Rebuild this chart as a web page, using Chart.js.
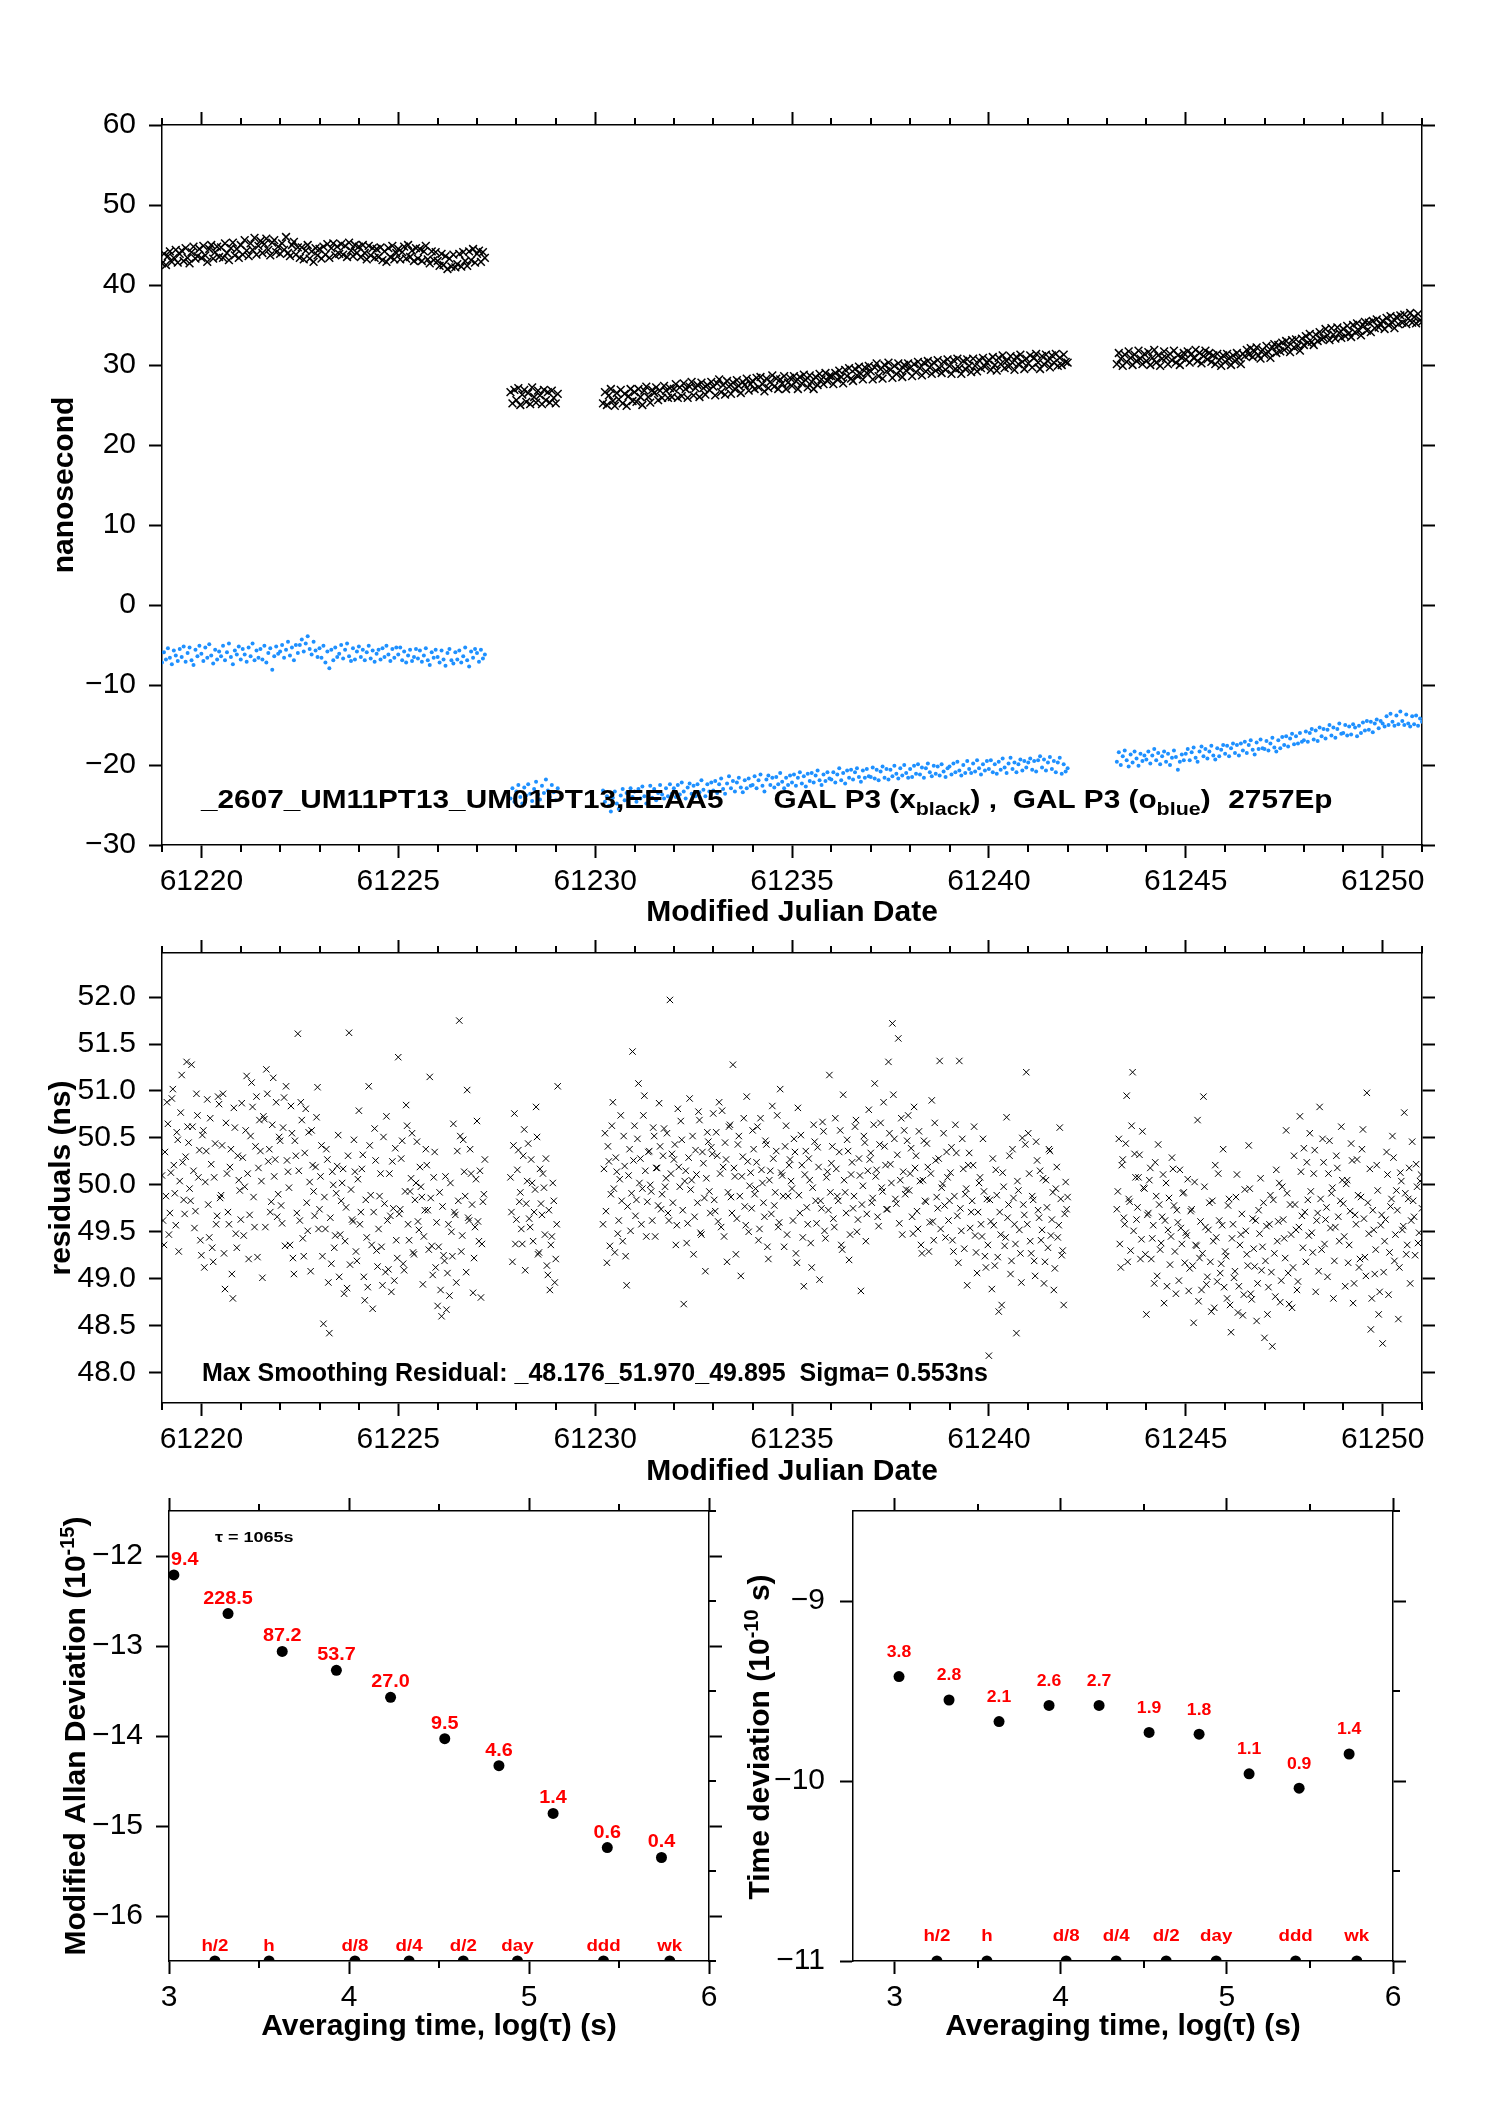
<!DOCTYPE html>
<html>
<head>
<meta charset="utf-8">
<script src="https://cdn.jsdelivr.net/npm/chart.js@4.4.1/dist/chart.umd.min.js"></script>
<style>
  body { margin: 0; background: #fff; width: 1488px; height: 2105px; position: relative; overflow: hidden; }
  canvas { position: absolute; left: 0; top: 0; }
</style>
</head>
<body>
<canvas id="clockChart" width="1488" height="2105"></canvas>
<canvas id="residChart" width="1488" height="2105"></canvas>
<canvas id="adevChart" width="1488" height="2105"></canvas>
<canvas id="tdevChart" width="1488" height="2105"></canvas>
<script>
// ---- sampling of the clock comparison (MJD start of each continuous segment) ----
const segStartMjd = [61219.00, 61227.85, 61230.20, 61243.25];
const stepDays = 0.05;

// GAL P3 (x, black), nanoseconds
const galBlackSeg1 = [42.7,43.9,42.5,43.6,44.2,42.9,43.4,44.4,42.8,43.9,44.3,43.0,44.6,43.4,42.7,44.1,44.8,43.3,43.6,44.5,
  43.4,44.9,43.7,42.9,44.5,45.0,43.3,44.1,44.8,43.5,44.7,43.4,45.2,44.0,43.1,44.6,45.3,43.7,44.5,43.4,
  45.0,43.8,45.6,44.3,43.6,45.2,44.4,45.9,43.8,44.9,45.5,44.0,45.1,45.8,44.4,43.7,45.3,45.6,44.1,44.8,
  43.9,45.2,44.4,46.0,44.0,43.6,45.0,45.4,43.8,44.7,43.4,44.7,43.2,44.3,45.0,43.3,44.2,42.9,44.6,43.7,
  44.5,43.3,44.8,43.8,45.1,43.4,44.6,45.2,43.7,44.8,43.9,45.1,43.8,44.9,43.5,45.3,44.3,43.6,45.0,44.0,
  44.8,43.5,45.0,44.0,43.2,44.9,43.7,44.6,43.4,44.5,43.5,44.7,43.1,44.2,42.9,44.6,43.5,44.9,43.2,44.0,
  44.5,43.2,44.1,44.8,43.3,45.0,43.5,44.3,43.0,44.6,43.3,44.5,43.0,44.2,44.9,43.2,42.7,44.2,43.1,44.1,
  43.0,42.4,43.9,42.5,43.6,42.0,43.3,42.3,43.8,42.2,42.6,43.9,42.3,44.1,43.0,42.4,44.2,43.1,44.5,42.8,
  43.9,44.3,42.9,44.1,43.4];
const galBlackSeg2 = [26.6,25.2,26.9,25.6,27.1,25.0,26.3,26.9,25.4,26.5,25.1,27.2,26.0,25.3,26.8,26.2,25.1,26.9,25.6,26.6,
  25.3,26.8,25.9,25.2,26.4];
const galBlackSeg3 = [25.2,26.6,25.0,26.2,27.0,25.5,24.9,26.5,25.7,26.9,25.2,26.4,24.9,26.1,27.0,25.5,
  26.6,25.4,27.0,26.0,25.0,26.8,27.3,26.0,25.3,26.9,26.5,27.2,25.6,26.8,25.9,27.4,26.8,25.9,27.1,26.0,
  27.0,27.6,25.9,27.2,26.1,27.7,27.0,25.9,27.3,27.9,26.2,27.1,27.5,26.0,27.8,27.1,26.3,27.5,26.9,27.9,
  27.3,26.2,27.7,28.2,26.6,27.5,26.3,28.0,27.3,26.4,27.8,27.0,28.1,27.4,26.5,27.9,27.5,28.3,26.8,27.6,
  28.0,27.0,28.4,27.2,28.5,27.6,26.7,28.3,27.1,27.9,28.7,27.3,28.3,27.0,28.2,27.7,28.6,27.0,27.8,28.4,
  27.4,28.6,28.0,27.0,28.5,27.7,28.8,28.1,27.2,28.7,27.9,27.0,28.5,27.5,28.9,28.2,27.6,29.0,28.0,28.6,
  28.6,27.6,29.0,28.2,29.3,28.5,27.7,29.4,28.6,29.6,28.3,28.0,29.5,28.7,29.8,28.9,28.2,29.7,29.0,29.9,
  29.2,28.2,29.7,30.2,28.6,29.5,28.3,30.0,29.2,30.3,29.4,28.4,29.9,28.9,30.2,29.3,28.5,30.0,29.3,30.2,
  29.6,28.6,30.1,29.1,30.4,29.6,28.7,30.3,29.2,30.5,29.7,28.9,30.3,29.3,30.6,29.6,29.0,30.4,29.4,30.7,
  29.9,28.9,30.6,29.5,30.8,29.6,28.9,30.5,29.5,30.7,29.9,29.1,30.8,29.9,29.2,30.6,29.6,30.9,29.8,30.3,
  30.6,29.4,31.0,30.0,29.3,30.9,30.1,31.2,29.6,30.5,29.8,31.1,30.3,29.4,31.0,30.1,31.3,30.4,29.5,30.8,
  30.2,31.2,29.7,30.9,31.4,30.3,29.5,31.1,30.1,31.3,30.5,29.7,31.2,30.3,31.4,29.9,30.9,30.0,31.3,30.4,
  30.3];
const galBlackSeg4 = [30.1,31.5,30.8,29.9,31.3,30.4,31.7,30.9,30.0,31.3,30.5,31.8,30.8,30.1,31.4,
  30.5,31.6,30.0,30.9,31.9,30.3,31.2,29.9,30.8,31.7,30.9,30.1,31.4,30.6,31.8,30.3,31.2,30.0,30.9,31.5,
  30.7,31.7,30.3,31.4,30.9,31.9,30.5,31.5,30.2,31.1,31.8,30.7,31.5,30.4,31.2,30.1,31.4,30.6,29.9,31.2,
  30.4,31.4,30.8,30.0,31.2,30.5,31.5,30.9,30.1,31.4,31.1,31.9,31.3,32.1,31.0,31.7,32.2,31.2,30.8,31.9,
  31.3,32.4,31.6,30.9,32.2,32.6,31.5,32.5,31.7,32.8,31.9,33.0,32.3,31.6,33.1,32.2,33.2,32.4,31.8,33.3,
  32.5,33.6,32.8,33.9,32.9,32.5,33.8,33.0,34.1,33.2,33.4,34.5,33.7,33.1,34.6,33.8,33.3,34.7,34.0,33.4,
  34.5,33.6,34.9,34.0,33.5,35.0,34.1,35.2,34.3,33.7,35.0,35.4,34.3,35.3,34.1,35.5,34.6,35.7,34.7,35.1,
  35.5,34.5,35.9,35.0,36.1,35.3,34.6,36.0,35.1,36.2,35.3,36.3,35.1,35.8,36.5,35.3,36.0,35.2,36.4,35.6,
  35.4];

// GAL P3 (o, blue), nanoseconds
const galBlueSeg1 = [-7.2,-5.9,-6.8,-5.4,-6.6,-7.4,-5.7,-6.3,-7.0,-5.5,-6.5,-5.2,-7.1,-6.0,-5.3,-6.9,-7.5,-5.6,-6.4,-5.1,
  -6.1,-7.0,-5.3,-6.6,-4.9,-6.3,-7.3,-5.6,-6.8,-5.8,-6.4,-5.1,-6.9,-5.9,-4.8,-6.5,-7.4,-5.7,-6.2,-5.2,
  -6.8,-5.5,-6.2,-7.1,-5.3,-6.4,-4.8,-6.9,-5.7,-6.6,-5.5,-6.8,-5.1,-7.2,-6.0,-5.4,-8.1,-6.4,-5.2,-6.1,
  -5.8,-5.0,-6.6,-5.6,-4.6,-6.3,-5.3,-6.9,-5.0,-6.0,-5.0,-4.3,-5.8,-4.8,-3.9,-5.5,-6.2,-4.6,-5.7,-6.5,
  -5.4,-6.6,-5.1,-7.2,-5.8,-7.9,-5.6,-6.9,-5.3,-6.5,-6.1,-5.0,-6.7,-5.6,-4.8,-6.4,-7.0,-5.4,-6.8,-5.8,
  -5.2,-6.5,-5.6,-6.9,-5.9,-5.1,-6.7,-5.7,-7.1,-6.1,-5.6,-6.8,-5.4,-6.5,-5.1,-6.2,-7.0,-5.5,-6.6,-5.3,
  -6.2,-5.3,-6.9,-5.8,-7.2,-6.3,-5.6,-7.0,-6.5,-5.5,-6.7,-5.7,-7.1,-6.3,-5.4,-6.9,-7.5,-5.9,-6.6,-5.6,
  -6.5,-7.2,-5.7,-6.8,-7.6,-6.0,-5.5,-6.9,-7.3,-5.9,-6.8,-5.7,-7.2,-6.4,-5.3,-6.9,-7.7,-5.8,-6.6,-5.5,
  -6.0,-7.1,-5.6,-6.7,-6.2];
const galBlueSeg2 = [-24.2,-22.9,-24.6,-23.3,-22.5,-24.0,-24.8,-22.8,-23.8,-22.4,-23.6,-24.5,-23.0,-22.1,-23.7,-24.3,-22.6,-23.5,-21.8,-23.2,
  -24.0,-22.5,-23.4,-24.4,-22.9];
const galBlueSeg3 = [-23.2,-24.6,-23.9,-25.1,-25.8,-24.1,-23.3,-24.8,-25.5,-23.8,-23.0,-24.4,-23.5,-25.0,-22.9,-24.0,
  -23.3,-24.6,-23.0,-24.2,-22.7,-23.9,-24.8,-23.4,-22.6,-24.1,-23.0,-24.4,-23.5,-22.5,-23.7,-24.2,-22.9,-23.9,-22.4,-23.6,
  -22.9,-24.0,-22.5,-23.7,-22.2,-23.3,-24.2,-22.8,-22.3,-23.6,-22.6,-23.9,-22.4,-23.4,-21.9,-23.1,-23.9,-22.4,-23.3,-22.2,
  -23.2,-22.0,-23.5,-22.4,-21.7,-23.0,-23.6,-22.3,-21.4,-22.9,-22.0,-23.3,-22.2,-21.6,-22.8,-23.4,-21.9,-22.9,-21.7,-22.6,
  -22.5,-21.4,-22.9,-21.9,-21.2,-22.6,-23.3,-21.8,-21.3,-22.5,-21.6,-22.8,-21.5,-22.4,-21.0,-22.1,-22.9,-21.6,-22.5,-21.3,
  -22.2,-21.2,-22.6,-21.6,-20.9,-22.3,-21.4,-22.7,-21.1,-22.0,-21.0,-22.2,-21.3,-20.7,-21.9,-22.5,-21.2,-22.0,-20.9,-21.7,
  -21.8,-20.9,-22.2,-21.2,-20.4,-21.9,-21.0,-22.3,-20.7,-21.6,-20.6,-21.8,-20.9,-20.4,-21.5,-22.1,-20.7,-21.6,-20.5,-21.4,
  -21.5,-20.3,-21.7,-20.6,-21.9,-20.8,-20.2,-21.6,-20.5,-21.8,-20.6,-21.4,-20.1,-21.1,-21.7,-20.4,-21.3,-20.0,-21.0,-21.6,
  -20.5,-21.5,-20.1,-21.1,-19.9,-21.2,-20.3,-21.6,-20.4,-19.8,-20.9,-21.4,-20.1,-21.1,-20.2,-21.3,-19.9,-20.8,-21.5,-20.4,
  -20.2,-21.2,-19.8,-20.9,-19.6,-20.7,-21.3,-20.0,-21.0,-19.5,-20.5,-21.0,-19.8,-20.8,-19.4,-20.4,-21.2,-19.9,-20.7,-19.5,
  -20.5,-19.4,-20.9,-19.9,-21.1,-19.6,-20.6,-19.2,-20.3,-21.0,-19.8,-19.1,-20.5,-19.7,-20.9,-19.9,-19.3,-20.7,-19.5,-20.3,
  -19.7,-19.2,-20.6,-19.5,-20.8,-19.4,-18.9,-20.3,-19.3,-20.7,-19.7,-19.0,-20.5,-19.5,-20.9,-19.7,-19.1,-21.1,-19.9,-20.8,
  -20.4];
const galBlueSeg4 = [-19.6,-18.4,-20.0,-18.9,-18.2,-19.4,-20.2,-18.7,-19.7,-18.3,-19.2,-20.1,-18.6,-19.5,-18.8,
  -19.3,-18.3,-19.8,-18.8,-18.0,-19.4,-18.5,-19.9,-18.9,-18.3,-19.6,-18.6,-20.0,-19.1,-18.2,-19.0,-20.6,-19.6,-18.7,-19.4,
  -18.6,-18.0,-19.4,-18.4,-17.8,-19.1,-19.6,-18.3,-17.7,-18.9,-18.0,-19.2,-18.3,-17.6,-18.8,-19.3,-17.9,-18.9,-18.1,-17.5,
  -18.6,-17.6,-18.9,-17.9,-17.3,-18.5,-17.5,-18.8,-17.3,-18.2,-17.1,-18.5,-17.5,-16.9,-18.1,-18.7,-17.2,-18.0,-16.8,-17.9,
  -18.0,-17.0,-18.2,-17.3,-16.6,-17.8,-18.3,-16.9,-17.9,-16.5,-17.5,-16.4,-17.7,-16.7,-16.1,-17.4,-16.4,-17.3,-16.0,-17.1,
  -16.9,-15.8,-17.1,-16.0,-15.5,-16.8,-15.7,-17.0,-15.3,-16.4,-15.5,-16.7,-15.6,-15.0,-16.3,-15.3,-16.6,-15.5,-14.8,-16.1,
  -16.0,-15.0,-16.3,-15.2,-16.2,-14.9,-15.3,-16.4,-15.1,-16.0,-14.7,-15.7,-14.5,-15.6,-14.6,-15.9,-14.8,-14.3,-15.4,-14.5,
  -14.8,-15.2,-13.9,-15.0,-13.6,-14.6,-15.1,-13.8,-14.9,-13.3,-14.5,-15.0,-13.7,-14.8,-15.2,-13.9,-14.9,-13.8,-15.1,-14.2,
  -14.6];

// smoothing residuals, nanoseconds (samples on the grid, then samples half a step later)
const residSeg1 = [50.10,49.36,49.88,50.65,49.70,50.92,50.21,49.57,50.48,50.04,51.17,49.84,50.30,50.62,49.96,51.28,50.15,49.72,50.74,50.37,
  49.25,50.58,50.03,50.91,49.44,50.22,49.18,50.44,49.67,50.86,49.89,50.97,48.89,50.12,49.58,50.38,48.79,50.61,49.33,50.05,
  49.63,50.29,49.98,51.16,49.21,50.52,50.83,49.55,50.94,50.18,50.36,49.01,50.70,51.23,50.25,49.71,50.64,50.09,50.88,49.90,
  50.47,49.59,50.93,51.05,50.14,49.36,50.55,49.05,50.31,51.61,49.62,50.69,49.24,50.81,49.51,50.03,50.58,49.93,50.19,51.04,
  49.74,50.42,48.52,49.53,50.27,48.42,49.16,50.00,49.46,50.20,49.02,49.83,50.17,49.40,48.90,51.62,49.95,49.61,50.14,49.19,
  50.79,49.71,50.32,48.77,49.44,51.05,49.89,48.68,50.60,49.30,49.53,50.12,48.93,49.80,50.73,49.10,49.67,50.25,48.98,49.41,
  51.36,49.74,50.47,49.09,50.85,49.58,49.93,50.55,49.26,50.02,49.61,50.19,49.87,49.45,50.38,49.73,51.15,49.35,50.08,49.12,
  48.71,49.92,48.60,49.25,50.09,49.06,48.82,49.50,50.65,49.68,50.36,51.75,49.29,50.48,49.88,51.01,49.62,50.12,48.85,49.55,
  50.68,49.40,48.80,49.82,50.27];
const residSeg2 = [50.08,49.18,50.76,49.63,50.37,49.92,49.37,50.59,49.80,50.44,49.55,50.02,49.71,50.83,49.26,50.17,49.68,49.97,50.28,49.04,
  48.88,49.45,49.83,49.21,51.05];
const residSeg3 = [49.58,50.55,49.17,50.25,49.90,50.88,49.28,50.14,49.62,50.74,49.40,50.20,48.93,50.10,49.51,51.42,
  50.63,49.84,51.08,50.28,49.96,50.95,49.45,50.35,50.00,49.62,50.52,50.18,49.78,50.41,49.90,50.60,50.07,49.70,51.97,50.33,
  50.27,49.36,50.81,49.98,50.48,48.73,50.15,49.59,50.92,50.05,49.26,50.37,49.81,50.69,49.47,50.23,49.08,50.56,49.93,50.40,
  50.76,49.72,50.31,50.88,49.55,50.19,50.45,49.18,50.62,49.87,51.28,50.09,49.64,50.52,49.03,50.30,49.77,50.94,49.50,50.13,
  50.58,49.90,50.24,49.41,50.71,50.02,49.66,50.43,49.21,50.15,50.84,49.78,50.36,49.55,51.02,50.10,49.34,50.63,49.88,50.27,
  49.96,50.49,49.27,50.82,49.70,50.21,48.92,50.36,49.58,50.05,49.12,50.64,49.83,50.40,48.99,49.75,50.57,49.43,50.14,51.17,
  50.23,49.64,50.71,49.88,50.35,49.36,50.96,49.92,50.48,49.20,50.11,49.75,50.62,49.50,50.28,48.87,49.99,50.45,49.69,50.80,
  50.34,49.86,51.08,50.16,49.56,50.66,49.93,50.41,49.74,51.31,50.22,51.72,50.49,49.80,51.56,50.05,49.47,50.58,49.95,50.74,
  50.12,49.66,50.83,50.31,49.53,50.04,49.27,50.47,49.82,50.19,49.60,50.90,49.41,50.26,49.75,51.32,49.97,50.55,49.44,50.08,
  49.83,50.40,49.29,50.64,49.67,51.32,49.51,50.17,49.90,48.93,50.34,49.71,50.21,49.46,49.06,50.02,49.58,50.49,49.24,49.85,
  48.18,49.61,50.28,49.14,49.89,48.65,49.47,50.13,49.35,50.72,49.79,49.05,50.38,49.58,48.42,49.94,49.27,50.50,49.68,51.20,
  50.55,49.40,49.88,49.19,50.46,49.73,50.15,49.52,48.95,50.05,49.33,50.36,49.63,48.88,49.96,49.44,50.61,49.25,48.72,50.03,
  49.87];
const residSeg4 = [49.74,50.49,49.12,50.27,49.58,50.95,49.85,49.30,51.20,50.33,49.63,50.08,49.21,50.57,49.96,
  48.62,49.70,50.18,49.43,48.95,49.88,50.43,49.31,49.66,48.74,50.02,49.52,49.15,50.29,49.78,48.84,49.60,50.16,49.37,49.92,
  49.49,50.06,49.11,49.74,48.53,49.36,50.69,49.22,48.88,50.94,49.55,49.02,49.81,48.65,49.40,50.21,48.97,49.62,49.16,50.38,
  49.29,48.79,49.85,48.43,49.58,49.08,50.11,48.92,49.47,48.61,49.95,49.26,50.42,48.84,49.64,49.13,48.55,49.73,50.07,49.34,
  48.37,49.56,48.91,49.89,48.28,49.27,50.16,49.61,48.75,49.98,49.43,50.58,49.06,49.79,48.69,50.31,49.52,48.97,50.73,49.67,
  50.39,49.18,49.84,50.55,49.49,50.12,48.86,49.70,50.83,49.31,50.24,49.63,49.02,50.47,49.91,48.79,49.55,50.18,49.40,50.62,
  49.80,48.92,50.05,49.36,50.44,48.74,49.68,50.27,49.12,49.87,50.59,49.23,50.98,49.48,48.46,49.73,49.05,50.21,48.62,49.57,
  48.31,49.40,50.35,48.83,49.77,50.52,49.19,49.94,48.57,50.13,49.52,50.77,49.26,49.85,48.95,50.46,49.66,50.22,49.38,50.04,
  49.75];
const residSeg1Mid = [49.62,50.35,50.88,49.47,50.13,51.02,49.91,50.56,49.29,50.77,50.24,49.69,51.31,50.45,49.83,50.62,49.54,50.97,50.08,49.41,
  50.53,49.12,50.36,49.79,50.71,49.33,50.08,49.58,50.94,49.86,50.42,49.27,50.66,49.71,50.19,49.05,50.82,49.48,50.31,49.94,
  50.87,49.46,50.58,50.12,49.68,51.09,49.87,50.41,49.23,50.69,50.04,50.73,49.55,50.97,50.38,49.82,51.14,50.27,49.66,50.51,
  49.78,50.61,49.35,50.26,49.97,50.84,49.22,50.47,49.70,50.15,50.88,49.43,50.34,49.81,50.56,49.08,50.21,49.67,50.72,49.53,
  50.09,49.24,49.87,50.38,48.96,49.65,50.14,49.33,49.91,50.53,49.47,50.02,48.84,49.76,50.31,49.15,49.63,50.48,49.29,50.06,
  49.58,50.17,49.02,49.84,48.91,50.42,49.36,49.71,50.26,49.13,49.88,49.34,50.51,49.07,49.62,50.12,48.86,49.75,50.39,49.22,
  49.69,50.28,49.16,49.93,50.63,49.41,50.07,49.28,49.84,50.46,49.52,49.98,48.94,49.73,50.21,49.31,49.86,49.04,50.35,49.60,
  49.34,48.88,49.77,49.19,48.67,49.58,50.02,49.24,49.71,48.96,49.83,50.52,49.46,50.14,49.07,49.65,50.38,49.79,49.22,50.06,
  49.61,50.15,49.37,49.90];
const residSeg2Mid = [49.71,50.42,49.37,50.16,49.82,49.53,50.31,49.09,50.04,49.64,50.27,49.40,49.95,50.51,49.28,49.80,50.12,49.47,49.14,49.73,
  49.36,50.02,48.96,49.58];
const residSeg3Mid = [50.17,49.72,50.41,49.35,50.63,49.96,50.29,49.48,50.06,49.83,50.52,49.24,49.77,50.38,49.91,
  50.26,49.67,50.49,50.02,49.58,50.74,50.15,49.82,50.36,49.93,50.61,49.45,50.18,50.87,49.74,50.31,49.98,50.55,49.62,50.12,
  49.81,50.43,49.57,50.19,50.68,49.73,50.04,49.38,50.29,49.95,50.52,49.66,50.11,50.78,49.49,50.35,49.86,50.07,50.46,49.70,
  50.33,49.84,50.56,49.61,50.12,50.79,49.45,50.27,49.92,50.64,49.70,50.18,49.26,50.43,49.88,50.09,50.71,49.57,50.25,49.99,
  49.75,50.38,49.96,50.62,49.53,50.16,49.81,50.47,49.34,50.05,49.69,50.28,49.92,50.74,49.60,50.13,49.88,50.41,49.47,50.21,
  50.04,49.62,50.35,49.17,49.89,50.53,49.44,50.11,49.76,50.28,49.38,49.97,50.46,49.59,50.19,49.83,50.67,49.51,50.08,49.73,
  49.92,50.41,49.55,50.17,49.83,50.58,49.31,50.05,49.70,50.36,49.47,50.24,49.88,50.69,49.63,50.10,49.79,50.52,49.40,50.15,
  50.27,49.81,50.64,50.09,49.66,50.43,49.97,50.88,50.21,49.74,50.55,50.02,50.96,49.85,50.32,49.59,50.71,50.14,49.90,50.47,
  49.94,50.39,49.48,50.18,49.72,50.57,49.36,50.05,49.83,50.44,49.29,50.12,49.61,50.66,49.87,50.28,49.53,50.01,49.78,50.35,
  49.62,50.13,49.41,49.88,50.34,49.17,49.75,50.49,49.32,49.96,50.21,49.54,49.83,50.62,49.28,49.71,50.08,49.45,49.93,49.12,
  49.36,49.84,48.89,49.57,50.16,49.23,49.71,48.72,49.98,49.44,49.65,50.31,49.19,49.86,49.37,50.04,49.52,48.96,49.79,50.43,
  49.58,50.12,49.27,49.84,49.03,50.26,49.65,49.41,50.07,49.18,49.76,50.38,49.46,49.92,49.11,50.19,49.57,49.85,49.30,49.69,
  49.74];
const residSeg4Mid = [49.93,49.37,50.21,49.65,50.44,49.18,49.82,50.63,49.51,50.08,49.76,50.32,49.42,49.97,49.26,
  49.68,50.05,49.21,49.57,50.24,49.03,49.79,49.38,50.11,49.62,48.92,49.86,49.45,50.17,49.29,49.73,48.98,49.54,49.91,49.17,
  49.46,48.87,49.72,49.14,50.03,49.35,48.76,49.61,49.27,49.98,48.94,49.52,49.18,49.83,48.69,49.44,50.12,49.06,49.57,48.91,
  49.24,49.78,48.72,49.43,49.01,49.87,48.64,49.36,49.69,48.83,49.51,49.14,49.96,48.78,49.32,49.62,48.95,49.48,49.09,49.81,
  49.19,48.62,49.58,49.07,49.84,48.81,49.40,50.02,48.98,49.63,49.22,49.91,48.73,49.47,49.12,49.79,48.88,49.55,50.14,49.33,
  49.71,50.24,49.46,49.93,49.28,50.37,49.62,49.08,49.85,50.49,49.37,49.76,50.12,49.54,49.97,49.19,50.31,49.66,49.83,50.05,
  49.45,50.01,49.17,49.72,50.26,48.95,49.58,49.89,49.21,50.38,49.64,49.03,49.81,50.17,48.79,49.52,49.31,49.94,48.86,49.68,
  49.07,49.63,50.11,49.28,49.85,50.29,49.47,49.73,49.12,50.04,49.56,49.91,49.36,50.18,49.62,49.83,49.25,49.98,49.49,50.11];

// stability analysis: log10(tau) and log10 of deviation
const logTau = [3.027, 3.328, 3.629, 3.930, 4.231, 4.532, 4.833, 5.134, 5.435, 5.736];
const modAdev = [-12.21, -12.64, -13.06, -13.27, -13.57, -14.03, -14.33, -14.86, -15.24, -15.35];
const modAdevLabels = ['9.4', '228.5', '87.2', '53.7', '27.0', '9.5', '4.6', '1.4', '0.6', '0.4'];
const tdev = [-9.42, -9.55, -9.67, -9.58, -9.58, -9.73, -9.74, -9.96, -10.04, -9.85];
const tdevLabels = ['3.8', '2.8', '2.1', '2.6', '2.7', '1.9', '1.8', '1.1', '0.9', '1.4'];
const markerLogTau = [3.255, 3.556, 4.033, 4.334, 4.635, 4.936, 5.414, 5.782];
const markerNames = ['h/2', 'h', 'd/8', 'd/4', 'd/2', 'day', 'ddd', 'wk'];

// axis ranges and ticks
const mjdRange = [61219, 61251];
const nsRange = [-30, 60];
const residRange = [47.676, 52.47];
const adevRange = [-16.5, -11.5];
const tdevRange = [-11, -8.5];
const logTauRangeL = [3, 6];
const logTauRangeR = [2.75, 6];
const mjdTicks = [61220, 61225, 61230, 61235, 61240, 61245, 61250];
const mjdMinor = [61219, 61221, 61222, 61223, 61224, 61226, 61227, 61228, 61229, 61231, 61232, 61233, 61234,
  61236, 61237, 61238, 61239, 61241, 61242, 61243, 61244, 61246, 61247, 61248, 61249, 61251];
const nsTicks = [-30, -20, -10, 0, 10, 20, 30, 40, 50, 60];
const residTicks = [48.0, 48.5, 49.0, 49.5, 50.0, 50.5, 51.0, 51.5, 52.0];
const logTauTicks = [3, 4, 5, 6];
const logTauMinor = [3.5, 4.5, 5.5];
const adevTicks = [-16, -15, -14, -13, -12];
const adevMinor = [-16.5, -15.5, -14.5, -13.5, -12.5, -11.5];
const tdevTicks = [-11, -10, -9];
const tdevMinor = [-10.5, -9.5, -8.5];

const FONT = "'Liberation Sans', Arial, Helvetica, sans-serif";
Chart.defaults.font.family = FONT;
Chart.defaults.color = '#000';

const PAGE_W = 1488, PAGE_H = 2105;
const LEFT_W = 140, RIGHT_W = 30, TOP_H = 20, BOTTOM_H = 100;

function toPoints(segments, offset) {
  const pts = [];
  segments.forEach((vals, s) => {
    vals.forEach((v, i) => pts.push({ x: segStartMjd[s] + (offset || 0) + i * stepDays, y: v }));
  });
  return pts;
}

const minus = v => (v < 0 ? '\u2212' + Math.abs(v) : String(v));

function axis(position, range, ticks, opts) {
  const horizontal = position === 'top' || position === 'bottom';
  const tickOpts = { display: !!opts.format, autoSkip: false, maxRotation: 0, padding: opts.pad || 0, font: { size: 30 }, color: '#000' };
  if (opts.format) tickOpts.callback = opts.format;
  return {
    type: 'linear', position, min: range[0], max: range[1], bounds: 'data',
    afterBuildTicks: a => { a.ticks = ticks.map(v => ({ value: v })); },
    afterFit: a => { if (horizontal) a.height = opts.size; else a.width = opts.size; },
    grid: { display: true, drawOnChartArea: false, drawTicks: true, tickLength: 13, tickWidth: 2, color: '#000', tickColor: '#000' },
    border: { display: true, color: '#000', width: 1.5 },
    ticks: tickOpts,
    title: opts.title
      ? { display: true, text: opts.title, color: '#000', font: { size: 30, weight: 'bold' }, padding: opts.titlePad }
      : { display: false }
  };
}

// short (minor) tick marks, placed with the chart's own scales
const minorTicks = {
  id: 'minorTicks',
  afterDraw(chart, args, opts) {
    const ctx = chart.ctx;
    ctx.save();
    ctx.strokeStyle = '#000';
    ctx.lineWidth = 2;
    (opts.marks || []).forEach(m => {
      const s = chart.scales[m.axis];
      m.values.forEach(v => {
        const p = Math.round(s.getPixelForValue(v));
        ctx.beginPath();
        if (s.position === 'bottom') { ctx.moveTo(p, s.top); ctx.lineTo(p, s.top + 7); }
        else if (s.position === 'top') { ctx.moveTo(p, s.bottom); ctx.lineTo(p, s.bottom - 7); }
        else if (s.position === 'left') { ctx.moveTo(s.right, p); ctx.lineTo(s.right - 7, p); }
        else { ctx.moveTo(s.left, p); ctx.lineTo(s.left + 7, p); }
        ctx.stroke();
      });
    });
    ctx.restore();
  }
};

// red value labels above the points
const pointLabels = {
  id: 'pointLabels',
  afterDatasetsDraw(chart, args, opts) {
    const ctx = chart.ctx, area = chart.chartArea;
    (opts.sets || []).forEach(set => {
      const meta = chart.getDatasetMeta(set.dataset);
      ctx.save();
      ctx.font = 'bold ' + set.size + 'px ' + FONT;
      ctx.fillStyle = '#ff0000';
      ctx.textAlign = 'center';
      ctx.textBaseline = 'middle';
      meta.data.forEach((el, i) => {
        const text = set.labels[i];
        const w = ctx.measureText(text).width * 1.1;
        const x = Math.max(el.x, area.left + w / 2 + 2);
        ctx.save();
        ctx.translate(x, el.y - set.dy);
        ctx.scale(1.1, 1);
        ctx.fillText(text, 0, 0);
        ctx.restore();
      });
      ctx.restore();
    });
  }
};

// free text (annotations, titles with sub/superscripts)
const freeText = {
  id: 'freeText',
  afterDatasetsDraw(chart, args, opts) {
    const ctx = chart.ctx;
    (opts.items || []).forEach(it => {
      ctx.save();
      ctx.translate(it.x, it.y);
      if (it.rotate) ctx.rotate(it.rotate);
      ctx.scale(it.sx || 1, 1);
      ctx.fillStyle = '#000';
      ctx.textAlign = 'left';
      ctx.textBaseline = 'alphabetic';
      let total = 0;
      it.parts.forEach(p => { ctx.font = 'bold ' + p[1] + 'px ' + FONT; total += ctx.measureText(p[0]).width; });
      let cx = it.center ? -total / 2 : 0;
      it.parts.forEach(p => {
        ctx.font = 'bold ' + p[1] + 'px ' + FONT;
        ctx.fillText(p[0], cx, p[2] || 0);
        cx += ctx.measureText(p[0]).width;
      });
      ctx.restore();
    });
  }
};

function makeChart(id, area, scales, datasets, pluginOpts) {
  return new Chart(document.getElementById(id), {
    type: 'scatter',
    data: { datasets },
    options: {
      responsive: false, animation: false, events: [], devicePixelRatio: 1,
      layout: { padding: {
        left: area.left - LEFT_W, right: PAGE_W - area.right - RIGHT_W,
        top: area.top - TOP_H, bottom: PAGE_H - area.bottom - BOTTOM_H } },
      scales,
      plugins: Object.assign({ legend: { display: false }, tooltip: { enabled: false } }, pluginOpts)
    },
    plugins: [minorTicks, pointLabels, freeText]
  });
}

// ---- panel 1: clock offsets ----
makeChart('clockChart', { left: 162, top: 125, right: 1422, bottom: 845 }, {
  x: axis('bottom', mjdRange, mjdTicks, { size: BOTTOM_H, format: v => String(v), pad: 6, title: 'Modified Julian Date', titlePad: { top: 0, bottom: 14 } }),
  xT: axis('top', mjdRange, mjdTicks, { size: TOP_H }),
  y: axis('left', nsRange, nsTicks, { size: LEFT_W, format: minus, pad: 13, title: 'nanosecond', titlePad: { top: 25, bottom: 0 } }),
  yR: axis('right', nsRange, nsTicks, { size: RIGHT_W })
}, [
  { data: toPoints([galBlackSeg1, galBlackSeg2, galBlackSeg3, galBlackSeg4]), xAxisID: 'x', yAxisID: 'y',
    pointStyle: 'crossRot', pointRadius: 5.5, borderColor: '#000', borderWidth: 1.5 },
  { data: toPoints([galBlueSeg1, galBlueSeg2, galBlueSeg3, galBlueSeg4]), xAxisID: 'x', yAxisID: 'y',
    pointStyle: 'circle', pointRadius: 2, backgroundColor: '#1e90ff', borderWidth: 0 }
], {
  minorTicks: { marks: [{ axis: 'x', values: mjdMinor }, { axis: 'xT', values: mjdMinor }] },
  freeText: { items: [
    { x: 201, y: 808, sx: 1.19, parts: [['_2607_UM11PT13_UM01PT13,EEAA5', 25]] },
    { x: 773.6, y: 808, sx: 1.19, parts: [['GAL P3 (x', 25], ['black', 18, 7], [') ,', 25]] },
    { x: 1012.8, y: 808, sx: 1.19, parts: [['GAL P3 (o', 25], ['blue', 18, 7], [')', 25]] },
    { x: 1228.3, y: 808, sx: 1.19, parts: [['2757Ep', 25]] }
  ] }
});

// ---- panel 2: residuals ----
const residPoints = toPoints([residSeg1, residSeg2, residSeg3, residSeg4])
  .concat(toPoints([residSeg1Mid, residSeg2Mid, residSeg3Mid, residSeg4Mid], stepDays / 2));
makeChart('residChart', { left: 162, top: 953, right: 1422, bottom: 1403 }, {
  x: axis('bottom', mjdRange, mjdTicks, { size: BOTTOM_H, format: v => String(v), pad: 6, title: 'Modified Julian Date', titlePad: { top: 0, bottom: 13 } }),
  xT: axis('top', mjdRange, mjdTicks, { size: TOP_H }),
  y: axis('left', residRange, residTicks, { size: LEFT_W, format: v => v.toFixed(1), pad: 13, title: 'residuals (ns)', titlePad: { top: 22, bottom: 0 } }),
  yR: axis('right', residRange, residTicks, { size: RIGHT_W })
}, [
  { data: residPoints, xAxisID: 'x', yAxisID: 'y',
    pointStyle: 'crossRot', pointRadius: 4.5, borderColor: '#000', borderWidth: 1 }
], {
  minorTicks: { marks: [{ axis: 'x', values: mjdMinor }, { axis: 'xT', values: mjdMinor }] },
  freeText: { items: [
    { x: 202, y: 1381, parts: [['Max Smoothing Residual: _48.176_51.970_49.895  Sigma= 0.553ns', 25]] }
  ] }
});

// ---- panel 3: modified Allan deviation ----
makeChart('adevChart', { left: 169, top: 1511, right: 709, bottom: 1961 }, {
  x: axis('bottom', logTauRangeL, logTauTicks, { size: BOTTOM_H, format: v => String(v), pad: 6, title: 'Averaging time, log(\u03c4) (s)', titlePad: { top: 0, bottom: 16 } }),
  xT: axis('top', logTauRangeL, logTauTicks, { size: TOP_H }),
  y: axis('left', adevRange, adevTicks, { size: LEFT_W, format: minus, pad: 13 }),
  yR: axis('right', adevRange, adevTicks, { size: RIGHT_W })
}, [
  { data: logTau.map((t, i) => ({ x: t, y: modAdev[i] })), xAxisID: 'x', yAxisID: 'y',
    pointStyle: 'circle', pointRadius: 5.5, backgroundColor: '#000', borderWidth: 0, clip: false },
  { data: markerLogTau.map(t => ({ x: t, y: adevRange[0] })), xAxisID: 'x', yAxisID: 'y',
    pointStyle: 'circle', pointRadius: 5.5, backgroundColor: '#000', borderWidth: 0, clip: 0 }
], {
  minorTicks: { marks: [{ axis: 'x', values: logTauMinor }, { axis: 'xT', values: logTauMinor }, { axis: 'yR', values: adevMinor }] },
  pointLabels: { sets: [
    { dataset: 0, labels: modAdevLabels, size: 18, dy: 15 },
    { dataset: 1, labels: markerNames, size: 17, dy: 15 }
  ] },
  freeText: { items: [
    { x: 215, y: 1542, sx: 1.2, parts: [['\u03c4 = 1065s', 15]] },
    { x: 85, y: 1736, rotate: -Math.PI / 2, center: true, parts: [['Modified Allan Deviation (10', 30], ['-15', 20, -11], [')', 30]] }
  ] }
});

// ---- panel 4: time deviation ----
makeChart('tdevChart', { left: 853, top: 1511, right: 1393, bottom: 1961 }, {
  x: axis('bottom', logTauRangeR, logTauTicks, { size: BOTTOM_H, format: v => String(v), pad: 6, title: 'Averaging time, log(\u03c4) (s)', titlePad: { top: 0, bottom: 16 } }),
  xT: axis('top', logTauRangeR, logTauTicks, { size: TOP_H }),
  y: axis('left', tdevRange, tdevTicks, { size: LEFT_W, format: minus, pad: 15 }),
  yR: axis('right', tdevRange, tdevTicks, { size: RIGHT_W })
}, [
  { data: logTau.map((t, i) => ({ x: t, y: tdev[i] })), xAxisID: 'x', yAxisID: 'y',
    pointStyle: 'circle', pointRadius: 5.5, backgroundColor: '#000', borderWidth: 0, clip: false },
  { data: markerLogTau.map(t => ({ x: t, y: tdevRange[0] })), xAxisID: 'x', yAxisID: 'y',
    pointStyle: 'circle', pointRadius: 5.5, backgroundColor: '#000', borderWidth: 0, clip: 0 }
], {
  minorTicks: { marks: [{ axis: 'x', values: logTauMinor }, { axis: 'xT', values: logTauMinor }, { axis: 'yR', values: tdevMinor }] },
  pointLabels: { sets: [
    { dataset: 0, labels: tdevLabels, size: 16, dy: 24 },
    { dataset: 1, labels: markerNames, size: 17, dy: 25 }
  ] },
  freeText: { items: [
    { x: 769, y: 1737, rotate: -Math.PI / 2, center: true, parts: [['Time deviation (10', 30], ['-10', 20, -11], [' s)', 30]] }
  ] }
});
</script>
</body>
</html>
